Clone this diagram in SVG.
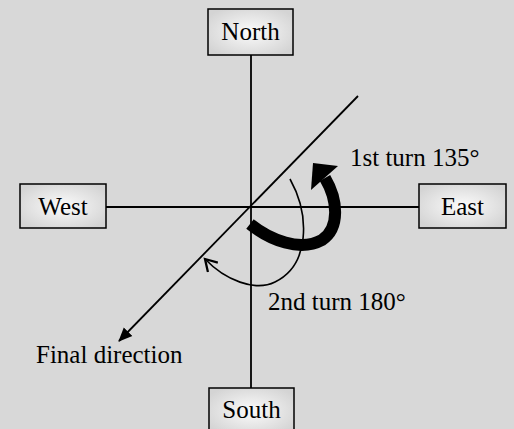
<svg xmlns="http://www.w3.org/2000/svg" width="514" height="429" viewBox="0 0 514 429">
<defs>
<radialGradient id="boxg" cx="50%" cy="50%" r="60%">
<stop offset="0" stop-color="#fbfbfb"/>
<stop offset="1" stop-color="#d4d4d4"/>
</radialGradient>
<marker id="solid" markerUnits="userSpaceOnUse" markerWidth="16" markerHeight="14" refX="13" refY="6" orient="auto" viewBox="0 0 16 12">
<path d="M0,0 L14,6 L0,12 Z" fill="#000"/>
</marker>
<marker id="open" markerUnits="userSpaceOnUse" markerWidth="16" markerHeight="16" refX="11" refY="7" orient="auto" viewBox="0 0 14 14">
<path d="M1,1 L11,7 L1,13" fill="none" stroke="#000" stroke-width="2"/>
</marker>
<style>
.box{fill:url(#boxg);stroke:#000;stroke-width:1.5}
.t{font-family:"Liberation Serif","Times New Roman",serif;font-size:25px;fill:#000}
.ln{stroke:#000;stroke-width:1.8;fill:none}
.thick{stroke:#000;stroke-width:12;fill:none}
.arc{stroke:#000;stroke-width:1.6;fill:none}
</style>
</defs>
<rect width="514" height="429" fill="#d8d8d8"/>
<g id="connectors">
<line class="ln" x1="251" y1="55" x2="251" y2="388"/>
<line class="ln" x1="106" y1="207" x2="419" y2="207"/>
<line class="ln" x1="358" y1="96" x2="119" y2="341" marker-end="url(#solid)"/>
<path class="thick" d="M250,224 C270,240 300,252 322,240 C340,228 338,200 325,178"/>
<polygon points="313,163 338,166 311,190" fill="#000"/>
<path class="arc" d="M290,179 C310,215 310,265 275,282 C255,292 225,280 205,259" marker-end="url(#open)"/>
</g>
<g id="north"><rect class="box" x="208" y="9" width="85" height="46"/><text class="t" x="250.5" y="40" text-anchor="middle">North</text></g>
<g id="west"><rect class="box" x="20" y="184" width="86" height="44"/><text class="t" x="63" y="215" text-anchor="middle">West</text></g>
<g id="east"><rect class="box" x="419" y="184" width="87" height="44"/><text class="t" x="462.5" y="215" text-anchor="middle">East</text></g>
<g id="south"><rect class="box" x="209" y="388" width="85" height="46"/><text class="t" x="251.5" y="418" text-anchor="middle">South</text></g>
<g id="labels">
<text class="t" x="350" y="166">1st turn 135°</text>
<text class="t" x="268" y="310">2nd turn 180°</text>
<text class="t" x="36" y="363">Final direction</text>
</g>
</svg>
